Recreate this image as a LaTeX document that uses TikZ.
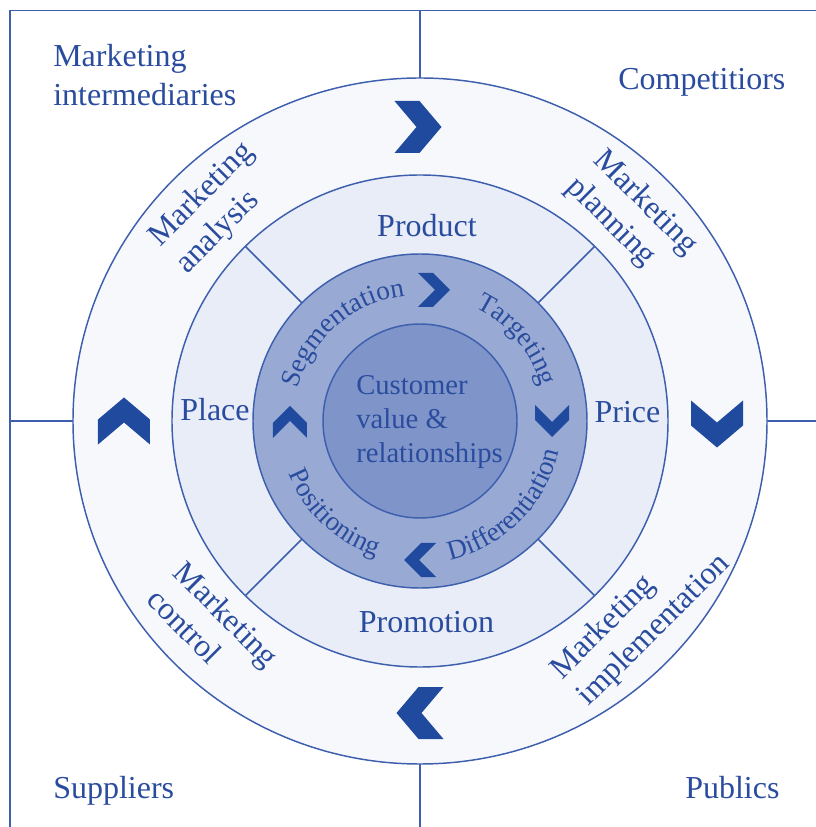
\documentclass[tikz,border=0pt]{standalone}
\usepackage{fontspec}
\setmainfont{Liberation Serif}
\usetikzlibrary{decorations.text}
\definecolor{txt}{HTML}{2A4C9E}
\definecolor{ln}{HTML}{3D5FAE}
\definecolor{chevcol}{HTML}{1F4A9E}
\definecolor{ringA}{HTML}{F7F8FC}
\definecolor{ringB}{HTML}{E9EDF7}
\definecolor{ringC}{HTML}{98AAD4}
\definecolor{ringD}{HTML}{7F95C9}
\newcommand\mybigfont{\fontsize{24}{28.5}\selectfont}
\newcommand\mycustfont{\fontsize{21.5}{25.5}\selectfont}
\newcommand\myringfont{\color{txt}\fontsize{20.5}{21}\selectfont}
\tikzset{
  lbl/.style={text=txt, font=\mybigfont, inner sep=0pt},
  cust/.style={text=txt, font=\mycustfont, inner sep=0pt},
  ringline/.style={draw=ln, line width=1.1pt},
  bigchev/.pic={\fill[chevcol] (-23.5,26) -- (1.5,26) -- (23.5,0) -- (1.5,-26) -- (-23.5,-26) -- (-1.5,0) -- cycle;},
  smallchev/.pic={\fill[chevcol] (-16,17) -- (-1,17) -- (16,0) -- (-1,-17) -- (-16,-17) -- (1,0) -- cycle;},
  arctext/.style={decorate, decoration={text along path, text={|\myringfont|#1}, text align=center}}
}
\begin{document}
\begin{tikzpicture}[x=0.75pt, y=0.75pt]
\useasboundingbox (-420,-406) rectangle (396,421);
% frame
\draw[ringline] (-410,-406) -- (-410,410.5) -- (396,410.5);
\draw[ringline] (0,410.5) -- (0,343);
\draw[ringline] (0,-343) -- (0,-406);
\draw[ringline] (-410,0) -- (-347,0);
\draw[ringline] (347,0) -- (396,0);
% rings
\filldraw[ringline, fill=ringA] (0,0) ellipse [x radius=347, y radius=343];
\filldraw[ringline, fill=ringB] (0,0) ellipse [x radius=248, y radius=246];
\foreach \a in {45,135,225,315} \draw[ringline] (\a:167) -- (\a:247);
\filldraw[ringline, fill=ringC] (0,0) circle [radius=167];
\filldraw[ringline, fill=ringD] (0,0) circle [radius=97];
% corner labels
\node[lbl, anchor=base west] (mi1) at (-367,354) {Marketing};
\node[lbl, anchor=base west] (mi2) at (-367,315) {intermediaries};
\node[lbl, anchor=base west] (comp) at (198,331) {Competitiors};
\node[lbl, anchor=base west] (sup) at (-367,-377) {Suppliers};
\node[lbl, anchor=base west] (pub) at (265,-377) {Publics};
% 4P
\node[lbl, anchor=base] (prod) at (7,184) {Product};
\node[lbl, anchor=base] (price) at (207.5,-2) {Price};
\node[lbl, anchor=base] (place) at (-205,0) {Place};
\node[lbl, anchor=base] (promo) at (6.5,-211) {Promotion};
% centre
\node[cust, anchor=base west] (c1) at (-64,26) {Customer};
\node[cust, anchor=base west] (c2) at (-64,-8) {value \&};
\node[cust, anchor=base west] (c3) at (-64,-42) {relationships};
% outer ring labels
\node[lbl, align=left, rotate=45] (ma) at (-204.6,212.6) {Marketing\\analysis};
\node[lbl, align=left, rotate=-45] (mp) at (211.6,204.6) {Marketing\\planning};
\node[lbl, align=left, rotate=-45] (mc) at (-206.6,-206.6) {Marketing\\control};
\node[lbl, align=left, rotate=45] (mim) at (221,-196) {Marketing\\implementation};
% outer chevrons
\pic at (-2,294) {bigchev};
\pic[rotate=-90] at (297,-3) {bigchev};
\pic[rotate=180] at (0,-292) {bigchev};
\pic[rotate=90] at (-296,0) {bigchev};
% inner chevrons
\pic at (14,131) {smallchev};
\pic[rotate=-90] at (132,0) {smallchev};
\pic[rotate=180] at (0,-139) {smallchev};
\pic[rotate=90] at (-130,-1) {smallchev};
% inner ring texts
\path[arctext=Segmentation] (183:126) arc[start angle=183, end angle=79, radius=126];
\path[arctext=Targeting] (92:126) arc[start angle=92, end angle=-12, radius=126];
\path[arctext=Differentiation] (-100:142) arc[start angle=-100, end angle=10, radius=142];
\path[arctext=Positioning] (177:142) arc[start angle=177, end angle=277, radius=142];
\end{tikzpicture}
\end{document}
